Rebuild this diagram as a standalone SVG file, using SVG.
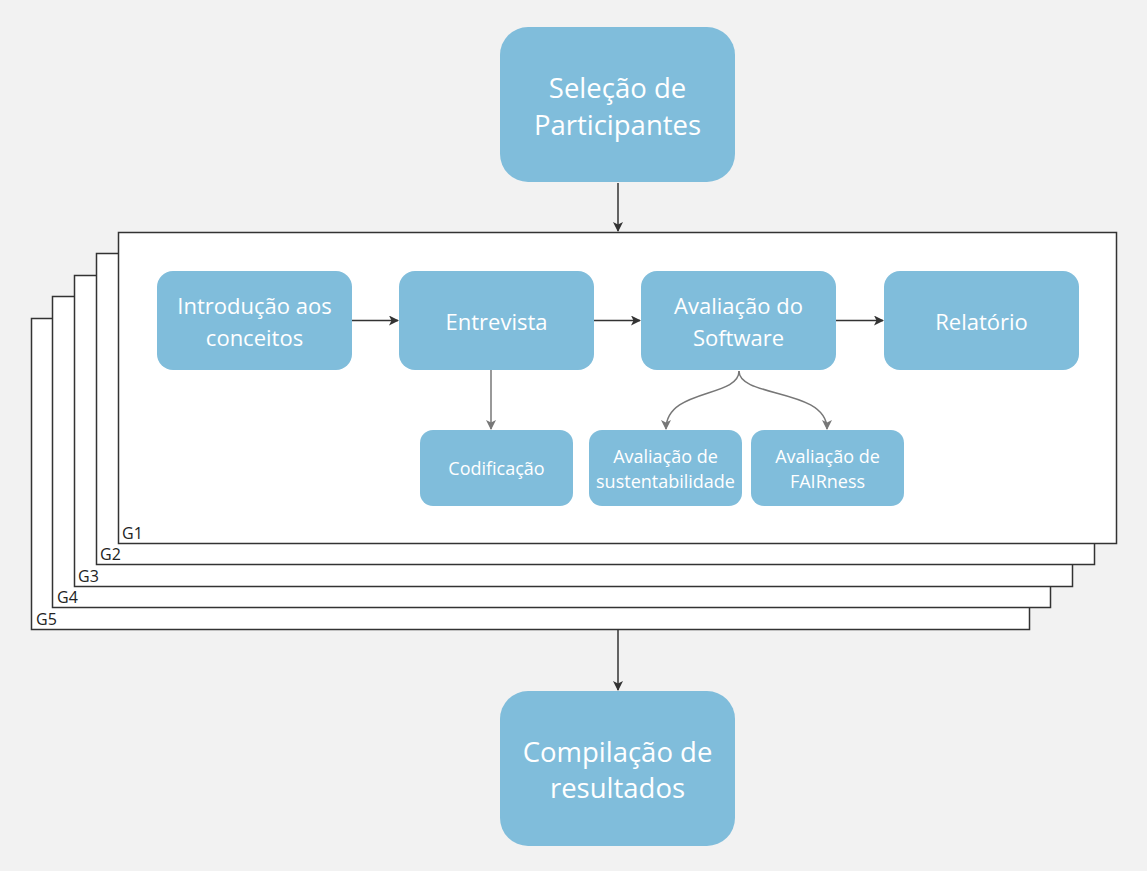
<svg xmlns="http://www.w3.org/2000/svg" width="1147" height="871" viewBox="0 0 1147 871">
<style>
.frame{fill:#fff;stroke:#333;stroke-width:1.5}
.glabel{font-family:"Open Sans","Noto Sans",sans-serif;font-size:16px;fill:#222}
.node{fill:#80bddb}
.t{font-family:"Open Sans","Noto Sans",sans-serif;fill:#fff;text-anchor:middle;dominant-baseline:central}
.big{font-size:27.5px}
.mid{font-size:22px}
.small{font-size:18px}
.dark{stroke:#333;stroke-width:1.5;fill:none}
.gray{stroke:#777;stroke-width:1.5;fill:none}
</style>
<defs>
<marker id="ad" viewBox="0 0 10 10" refX="9" refY="5" markerWidth="10" markerHeight="10" markerUnits="userSpaceOnUse" orient="auto"><path d="M0,0 L10,5 L0,10 L2.5,5 Z" fill="#333"/></marker>
<marker id="ag" viewBox="0 0 10 10" refX="9" refY="5" markerWidth="10" markerHeight="10" markerUnits="userSpaceOnUse" orient="auto"><path d="M0,0 L10,5 L0,10 L2.5,5 Z" fill="#777"/></marker>
</defs>
<rect width="1147" height="871" fill="#f2f2f2"/>
<g id="frames">
<g id="G5"><rect class="frame" x="31.5" y="318.5" width="998" height="311"/><text class="glabel" x="36" y="625">G5</text></g>
<g id="G4"><rect class="frame" x="52.5" y="296.5" width="998" height="311"/><text class="glabel" x="57" y="603">G4</text></g>
<g id="G3"><rect class="frame" x="74.5" y="275.5" width="998" height="311"/><text class="glabel" x="78" y="582">G3</text></g>
<g id="G2"><rect class="frame" x="96.5" y="253.5" width="998" height="311"/><text class="glabel" x="100" y="560">G2</text></g>
<g id="G1"><rect class="frame" x="118.5" y="232.5" width="998" height="311"/><text class="glabel" x="122" y="539">G1</text></g>
</g>
<g id="connectors">
<path class="dark" d="M618,183 V231" marker-end="url(#ad)"/>
<path class="dark" d="M618,630 V690" marker-end="url(#ad)"/>
<path class="dark" d="M352,320.5 H398" marker-end="url(#ad)"/>
<path class="dark" d="M594,320.5 H640" marker-end="url(#ad)"/>
<path class="dark" d="M836,320.5 H883" marker-end="url(#ad)"/>
<path class="gray" d="M491,370 V429" marker-end="url(#ag)"/>
<path class="gray" d="M739,371 C739,398 666,388 666,429" marker-end="url(#ag)"/>
<path class="gray" d="M739,371 C739,398 827,388 827,429" marker-end="url(#ag)"/>
</g>
<g id="n-selecao"><rect class="node" x="500" y="27" width="235" height="155" rx="28"/><text class="t big" x="617.5" y="87">Seleção de</text><text class="t big" x="617.5" y="124">Participantes</text></g>
<g id="n-compilacao"><rect class="node" x="500" y="691" width="235" height="155" rx="28"/><text class="t big" x="617.5" y="751">Compilação de</text><text class="t big" x="617.5" y="787">resultados</text></g>
<g id="n-intro"><rect class="node" x="157" y="271" width="195" height="99" rx="16"/><text class="t mid" x="254.5" y="305">Introdução aos</text><text class="t mid" x="254.5" y="337">conceitos</text></g>
<g id="n-entrevista"><rect class="node" x="399" y="271" width="195" height="99" rx="16"/><text class="t mid" x="496.5" y="321">Entrevista</text></g>
<g id="n-avaliacao"><rect class="node" x="641" y="271" width="195" height="99" rx="16"/><text class="t mid" x="738.5" y="305">Avaliação do</text><text class="t mid" x="738.5" y="337">Software</text></g>
<g id="n-relatorio"><rect class="node" x="884" y="271" width="195" height="99" rx="16"/><text class="t mid" x="981.5" y="321">Relatório</text></g>
<g id="n-codificacao"><rect class="node" x="420" y="430" width="153" height="76" rx="13"/><text class="t small" x="496.5" y="468">Codificação</text></g>
<g id="n-sustent"><rect class="node" x="589" y="430" width="153" height="76" rx="13"/><text class="t small" x="665.5" y="456">Avaliação de</text><text class="t small" x="665.5" y="481">sustentabilidade</text></g>
<g id="n-fair"><rect class="node" x="751" y="430" width="153" height="76" rx="13"/><text class="t small" x="827.5" y="456">Avaliação de</text><text class="t small" x="827.5" y="481">FAIRness</text></g>
</svg>
